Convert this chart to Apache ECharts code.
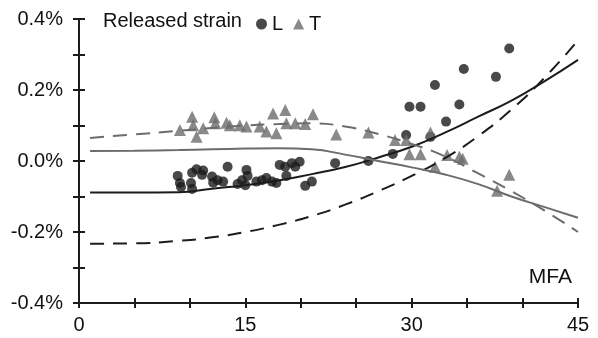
<!DOCTYPE html>
<html>
<head>
<meta charset="UTF-8">
<title></title>
<script src="https://cdn.jsdelivr.net/npm/echarts@6/dist/echarts.min.js"></script>
<style>html,body{margin:0;padding:0;background:#fff;}</style>
</head>
<body>
<div id="main" style="width:598px;height:338px;"></div>
<script>
// released strain, L (circles)
var ptsL = [
    [8.9, -0.042], [9.1, -0.062], [9.2, -0.073], [10.2, -0.033], [10.1, -0.062], [10.2, -0.079],
    [10.6, -0.023], [11.1, -0.039], [11.2, -0.027], [12.0, -0.044], [12.1, -0.061], [12.5, -0.054],
    [13.0, -0.058], [13.4, -0.016], [14.3, -0.065], [14.7, -0.054], [15.1, -0.025], [15.2, -0.042],
    [15.0, -0.068], [16.0, -0.058], [16.5, -0.054], [16.9, -0.048], [17.4, -0.058], [17.8, -0.062],
    [18.1, -0.011], [18.6, -0.016], [18.7, -0.042], [19.2, -0.006], [19.5, -0.016], [19.9, -0.002],
    [20.4, -0.070], [21.0, -0.058], [23.1, -0.006], [26.1, 0.0], [28.3, 0.02], [29.5, 0.073],
    [29.8, 0.153], [30.8, 0.153], [31.7, 0.068], [32.1, 0.214], [33.1, 0.111], [34.3, 0.159],
    [34.7, 0.259], [37.6, 0.237], [38.8, 0.317]
];
// released strain, T (triangles)
var ptsT = [
    [9.1, 0.087], [10.2, 0.125], [10.3, 0.101], [10.6, 0.068], [11.2, 0.092], [12.2, 0.123],
    [12.3, 0.106], [13.3, 0.108], [13.6, 0.101], [14.5, 0.101], [15.1, 0.097], [16.3, 0.097],
    [16.9, 0.083], [17.8, 0.078], [17.5, 0.134], [18.6, 0.144], [18.7, 0.106], [19.5, 0.106],
    [20.4, 0.104], [21.1, 0.132], [23.2, 0.075], [26.1, 0.08], [28.5, 0.059], [29.5, 0.059],
    [31.7, 0.08], [29.8, 0.019], [30.8, 0.019], [33.2, 0.017], [34.3, 0.012], [34.6, 0.006],
    [32.1, -0.016], [37.7, -0.084], [38.8, -0.039]
];
// fitted curves
var fitX = [1, 5, 9, 12, 15, 18, 21, 24, 27, 30, 33, 36, 39, 42, 45];
var fitL = [-0.089, -0.089, -0.088, -0.078, -0.068, -0.055, -0.037, -0.017, 0.01, 0.04, 0.08, 0.125, 0.17, 0.225, 0.285];
var fitLdash = [-0.233, -0.232, -0.225, -0.215, -0.2, -0.18, -0.155, -0.123, -0.085, -0.042, 0.008, 0.07, 0.145, 0.235, 0.34];
var fitT = [0.028, 0.029, 0.031, 0.033, 0.035, 0.036, 0.033, 0.018, 0.0, -0.018, -0.038, -0.065, -0.1, -0.13, -0.16];
var fitTdash = [0.065, 0.075, 0.085, 0.093, 0.1, 0.104, 0.106, 0.097, 0.076, 0.048, 0.013, -0.035, -0.085, -0.14, -0.2];
var xLabels = [0, 15, 30, 45];
var yLabels = [-0.4, -0.2, 0, 0.2, 0.4];

function pair(xs, ys) {
    return xs.map(function (x, i) { return [x, ys[i]]; });
}

var black = '#1c1c1c', gray = '#6c6c6c';
var font = 'Liberation Sans, Arial, sans-serif';
var myChart = echarts.init(document.getElementById('main'));

var axisBase = {
    min: 0, max: 45, interval: 5,
    axisLine: {show: true, onZero: false, lineStyle: {color: black, width: 2}},
    splitLine: {show: false}
};
var yBase = {
    min: -0.4, max: 0.4, interval: 0.1,
    axisLine: {show: true, onZero: false, lineStyle: {color: black, width: 2}},
    splitLine: {show: false}
};

option = {
    animation: false,
    title: {
        text: 'Released strain', left: 98, top: 6,
        textStyle: {fontFamily: font, fontSize: 20, fontWeight: 'normal', color: '#111'}
    },
    legend: {
        left: 251, top: 9, itemGap: 10, itemWidth: 11, itemHeight: 11,
        textStyle: {fontFamily: font, fontSize: 20, color: '#111'},
        data: [
            {name: 'L', icon: 'circle', itemStyle: {color: black}},
            {name: 'T', icon: 'triangle', itemStyle: {color: gray}}
        ]
    },
    graphic: [{
        type: 'text', right: 26, top: 267,
        style: {text: 'MFA', fontFamily: font, fontSize: 21, fill: '#111'}
    }],
    grid: {left: 79, right: 20, top: 19, bottom: 35},
    xAxis: [
        Object.assign({}, axisBase, {
            type: 'value', position: 'bottom',
            axisTick: {show: true, inside: false, length: 5, lineStyle: {color: black, width: 2}},
            axisLabel: {
                fontFamily: font, fontSize: 20, color: '#111', margin: 12,
                formatter: function (v) { return xLabels.indexOf(v) >= 0 ? String(v) : ''; }
            }
        }),
        Object.assign({}, axisBase, {
            type: 'value', position: 'bottom',
            axisTick: {show: true, inside: true, length: 5, lineStyle: {color: black, width: 2}},
            axisLabel: {show: false}
        })
    ],
    yAxis: [
        Object.assign({}, yBase, {
            type: 'value', position: 'left',
            axisTick: {show: true, inside: false, length: 6, lineStyle: {color: black, width: 2}},
            axisLabel: {
                fontFamily: font, fontSize: 20, color: '#111', margin: 16,
                formatter: function (v) {
                    var r = Math.round(v * 10) / 10;
                    return yLabels.indexOf(r) >= 0 ? r.toFixed(1) + '%' : '';
                }
            }
        }),
        Object.assign({}, yBase, {
            type: 'value', position: 'left',
            axisTick: {show: true, inside: true, length: 6, lineStyle: {color: black, width: 2}},
            axisLabel: {show: false}
        })
    ],
    series: [
        {
            name: 'L', type: 'scatter', symbol: 'circle', symbolSize: 10,
            itemStyle: {color: black}, data: ptsL
        },
        {
            name: 'T', type: 'scatter', symbol: 'triangle', symbolSize: 12,
            itemStyle: {color: gray}, data: ptsT
        },
        {
            name: 'fitL', type: 'line', smooth: true, showSymbol: false,
            lineStyle: {color: black, width: 2}, data: pair(fitX, fitL)
        },
        {
            name: 'fitLdash', type: 'line', smooth: true, showSymbol: false,
            lineStyle: {color: black, width: 2, type: [14, 9]}, data: pair(fitX, fitLdash)
        },
        {
            name: 'fitT', type: 'line', smooth: true, showSymbol: false,
            lineStyle: {color: gray, width: 2}, data: pair(fitX, fitT)
        },
        {
            name: 'fitTdash', type: 'line', smooth: true, showSymbol: false,
            lineStyle: {color: gray, width: 2, type: [14, 9]}, data: pair(fitX, fitTdash)
        }
    ]
};

myChart.setOption(option);
</script>
</body>
</html>
